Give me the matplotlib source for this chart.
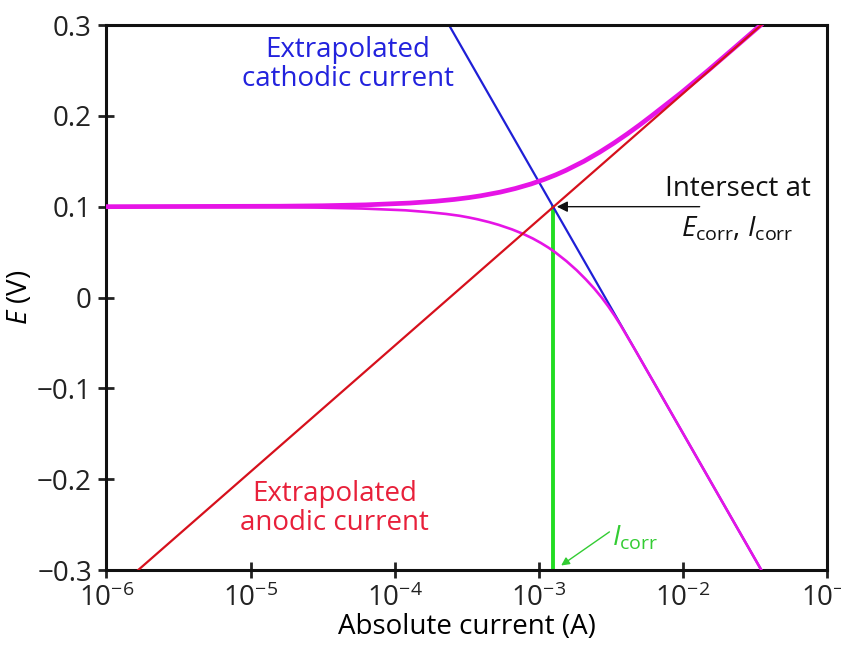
import numpy as np
import matplotlib
matplotlib.use('Agg')
import matplotlib.pyplot as plt

plt.rcParams['font.family'] = ['Open Sans', 'DejaVu Sans']
plt.rcParams['mathtext.fontset'] = 'custom'
plt.rcParams['mathtext.rm'] = 'Open Sans'
plt.rcParams['mathtext.it'] = 'Open Sans:italic'

# extrapolated Tafel lines (current in A, potential in V)
anodic_i = [1.66e-6, 3.5e-2]
anodic_E = [-0.3, 0.3]
cathodic_i = [2.38e-4, 3.5e-2]
cathodic_E = [0.3, -0.3]

# measured curve, anodic branch (log10 current, E)
upper_logi = [-6.0, -4.80, -4.50, -4.20, -3.894, -3.715, -3.586, -3.485, -3.402,
              -3.268, -3.163, -3.054, -2.963, -2.883, -2.812, -2.687, -2.578,
              -2.479, -2.387, -2.300, -2.217, -2.015, -1.825, -1.642, -1.460]
upper_E = [0.1, 0.1005, 0.101, 0.102, 0.104, 0.106, 0.108, 0.110, 0.112,
           0.116, 0.120, 0.125, 0.130, 0.135, 0.140, 0.150, 0.160,
           0.170, 0.180, 0.190, 0.200, 0.225, 0.250, 0.275, 0.300]

# measured curve, cathodic branch
lower_logi = [-6.0, -4.836, -4.534, -4.233, -3.924, -3.766, -3.644, -3.551, -3.482,
              -3.422, -3.345, -3.279, -3.186, -3.108, -3.042, -2.985, -2.934,
              -2.888, -2.808, -2.737, -2.674, -2.616, -2.564, -2.517, -2.474,
              -2.434, -2.397, -2.323, -2.251, -2.178, -1.9975, -1.817, -1.6365,
              -1.456]
lower_E = [0.1, 0.0995, 0.099, 0.098, 0.096, 0.094, 0.092, 0.090, 0.088,
           0.086, 0.083, 0.080, 0.075, 0.070, 0.065, 0.060, 0.055,
           0.050, 0.040, 0.030, 0.020, 0.010, 0.000, -0.010, -0.020,
           -0.030, -0.040, -0.060, -0.080, -0.100, -0.150, -0.200, -0.250,
           -0.300]

icorr = 1.26e-3
Ecorr = 0.1

xticks = [1e-6, 1e-5, 1e-4, 1e-3, 1e-2, 1e-1]
xticklabels = ['$10^{-6}$', '$10^{-5}$', '$10^{-4}$', '$10^{-3}$', '$10^{-2}$', '$10^{-1}$']
yticks = [-0.3, -0.2, -0.1, 0, 0.1, 0.2, 0.3]
yticklabels = ['\u22120.3', '\u22120.2', '\u22120.1', '0', '0.1', '0.2', '0.3']

fig = plt.figure(figsize=(8.41, 6.46), dpi=100)
ax = fig.add_axes([0.1266, 0.1176, 0.8568, 0.8437])

magenta = '#e614e6'
ax.plot(cathodic_i, cathodic_E, color='#1f1fd6', lw=1.6, zorder=2)
ax.plot(10 ** np.array(lower_logi), lower_E, color=magenta, lw=1.9, zorder=3)
ax.plot(10 ** np.array(upper_logi), upper_E, color=magenta, lw=3.4, zorder=3)
ax.plot(anodic_i, anodic_E, color='#d6101c', lw=1.6, zorder=4)
ax.plot([icorr, icorr], [Ecorr, -0.3], color='#22dd22', lw=2.8, zorder=1)

ax.set_xscale('log')
ax.set_xlim(1e-6, 1e-1)
ax.set_ylim(-0.3, 0.3)
ax.set_xticks(xticks)
ax.set_xticklabels(xticklabels)
ax.minorticks_off()
ax.set_yticks(yticks)
ax.set_yticklabels(yticklabels)
ax.tick_params(direction='inout', length=11, width=2, labelsize=20, pad=5, colors='#222222')
for s in ax.spines.values():
    s.set_linewidth(2.2)
    s.set_color('#111111')

ax.set_xlabel('Absolute current (A)', fontsize=20, labelpad=0)
ax.set_ylabel('$E$ (V)', fontsize=20, labelpad=2)

ax.text(10 ** -4.325, 0.256, 'Extrapolated\ncathodic current', color='#2222dd',
        fontsize=20, ha='center', va='center', linespacing=1.05)
ax.text(10 ** -4.415, -0.2325, 'Extrapolated\nanodic current', color='#e8203a',
        fontsize=20, ha='center', va='center', linespacing=1.05)
ax.text(10 ** -1.62, 0.119, 'Intersect at', color='#111111', fontsize=20,
        ha='center', va='center')
ax.text(10 ** -1.62, 0.075, r'$E_{\mathrm{corr}}$, $I_{\mathrm{corr}}$', color='#111111',
        fontsize=20, ha='center', va='center')
ax.annotate('', xy=(10 ** -2.875, Ecorr), xytext=(10 ** -1.884, Ecorr),
            arrowprops=dict(arrowstyle='-|>', color='#111111', lw=1.0,
                            mutation_scale=16, shrinkA=0, shrinkB=0))
ax.text(10 ** -2.49, -0.265, r'$I_{\mathrm{corr}}$', color='#33cc33', fontsize=20,
        ha='left', va='center')
ax.annotate('', xy=(10 ** -2.845, -0.295), xytext=(10 ** -2.51, -0.258),
            arrowprops=dict(arrowstyle='-|>', color='#33cc33', lw=1.0,
                            mutation_scale=12, shrinkA=0, shrinkB=0))

fig.savefig('out.png', dpi=100)
